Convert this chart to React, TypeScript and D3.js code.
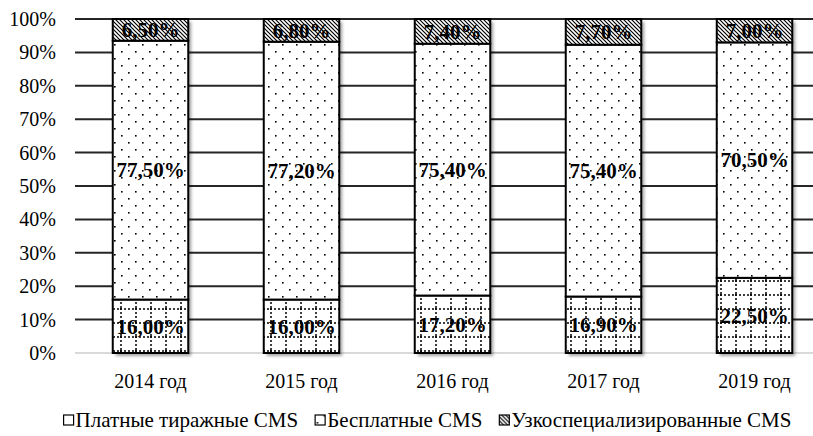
import React, { useEffect, useRef } from 'react'
import * as d3 from 'd3'

const years = ['2014 год', '2015 год', '2016 год', '2017 год', '2019 год']
const paid = [16.0, 16.0, 17.2, 16.9, 22.5]
const free = [77.5, 77.2, 75.4, 75.4, 70.5]
const niche = [6.5, 6.8, 7.4, 7.7, 7.0]
const seriesNames = ['Платные тиражные CMS', 'Бесплатные CMS', 'Узкоспециализированные CMS']
const yTicks = [0, 10, 20, 30, 40, 50, 60, 70, 80, 90, 100]

const W = 813
const H = 436
const FONT = '"Liberation Serif", "Times New Roman", serif'

const fmt = (v: number) => v.toFixed(2).replace('.', ',') + '%'

export default function App() {
  const svgRef = useRef<SVGSVGElement>(null)

  useEffect(() => {
    const svg = d3.select(svgRef.current)
    svg.selectAll('*').remove()

    const x = d3.scaleBand().domain(years).range([75, 830]).paddingInner(0.5).paddingOuter(0.25)
    const y = d3.scaleLinear().domain([0, 100]).range([353, 19])

    const defs = svg.append('defs')

    // bottom: dotted grid
    const pGrid = defs.append('pattern').attr('id', 'pGrid').attr('patternUnits', 'userSpaceOnUse')
      .attr('width', 15).attr('height', 14)
    pGrid.append('rect').attr('width', 15).attr('height', 14).attr('fill', '#fff')
    pGrid.append('line').attr('x1', 1).attr('x2', 1).attr('y1', 0).attr('y2', 14)
      .attr('stroke', '#000').attr('stroke-width', 1.5).attr('stroke-dasharray', '2,2')
    pGrid.append('line').attr('x1', 0).attr('x2', 15).attr('y1', 1).attr('y2', 1)
      .attr('stroke', '#000').attr('stroke-width', 1.5).attr('stroke-dasharray', '2,2')

    // middle: staggered dots
    const pDots = defs.append('pattern').attr('id', 'pDots').attr('patternUnits', 'userSpaceOnUse')
      .attr('width', 14).attr('height', 14)
    pDots.append('rect').attr('width', 14).attr('height', 14).attr('fill', '#fff')
    pDots.append('rect').attr('x', 2).attr('y', 2).attr('width', 1.6).attr('height', 1.6).attr('fill', '#000')
    pDots.append('rect').attr('x', 9).attr('y', 9).attr('width', 1.6).attr('height', 1.6).attr('fill', '#000')

    // top: diagonal hatch
    const pHatch = defs.append('pattern').attr('id', 'pHatch').attr('patternUnits', 'userSpaceOnUse')
      .attr('width', 4).attr('height', 4)
    pHatch.append('rect').attr('width', 4).attr('height', 4).attr('fill', '#fff')
    pHatch.append('path').attr('d', 'M-1,-1 L5,5 M-1,3 L1,5 M3,-1 L5,1')
      .attr('stroke', '#000').attr('stroke-width', 1.2)

    const shadow = defs.append('filter').attr('id', 'shadow').attr('x', '-10%').attr('y', '-10%')
      .attr('width', '130%').attr('height', '130%')
    shadow.append('feDropShadow').attr('dx', 3).attr('dy', 3).attr('stdDeviation', 1.8)
      .attr('flood-color', '#000').attr('flood-opacity', 0.35)

    const fills = ['url(#pGrid)', 'url(#pDots)', 'url(#pHatch)']
    const legendFills = ['#fff', 'url(#pDots)', 'url(#pHatch)']

    // gridlines
    svg.append('g').selectAll('line').data(yTicks).join('line')
      .attr('x1', 75).attr('x2', W)
      .attr('y1', d => y(d)).attr('y2', d => y(d))
      .attr('stroke', d => (d === 0 ? '#d9d9d9' : '#262626'))
      .attr('stroke-width', 2)

    // y labels
    svg.append('g').selectAll('text').data(yTicks).join('text')
      .attr('x', 56).attr('y', d => y(d)).attr('dy', '0.35em')
      .attr('text-anchor', 'end').attr('font-family', FONT).attr('font-size', 20)
      .text(d => d + '%')

    const stackData = years.map((yr, i) => ({ yr, vals: [paid[i], free[i], niche[i]] }))

    const bars = svg.append('g')
    stackData.forEach(d => {
      const g = bars.append('g')
      const x0 = x(d.yr) as number
      const bw = x.bandwidth()
      let acc = 0
      const segs = d.vals.map((v, k) => {
        const s = { k, v, y0: acc, y1: acc + v }
        acc += v
        return s
      })
      g.append('rect').attr('x', x0).attr('y', y(acc)).attr('width', bw).attr('height', y(0) - y(acc))
        .attr('fill', '#fff').attr('filter', 'url(#shadow)')
      segs.forEach(s => {
        g.append('rect').attr('x', x0).attr('y', y(s.y1)).attr('width', bw)
          .attr('height', y(s.y0) - y(s.y1))
          .attr('fill', fills[s.k]).attr('stroke', '#000').attr('stroke-width', 2)
      })
      segs.forEach(s => {
        g.append('text').attr('x', x0 + bw / 2).attr('y', y((s.y0 + s.y1) / 2)).attr('dy', '0.35em')
          .attr('text-anchor', 'middle').attr('font-family', FONT).attr('font-size', 21)
          .attr('font-weight', 'bold').text(fmt(s.v))
      })
    })

    // x labels
    svg.append('g').selectAll('text').data(years).join('text')
      .attr('x', d => (x(d) as number) + x.bandwidth() / 2).attr('y', 388)
      .attr('text-anchor', 'middle').attr('font-family', FONT).attr('font-size', 20)
      .text(d => d)

    // legend, centred under the plot
    const leg = svg.append('g')
    let lx = 0
    seriesNames.forEach((name, k) => {
      leg.append('rect').attr('x', lx + 1).attr('y', 415).attr('width', 10).attr('height', 10)
        .attr('fill', legendFills[k]).attr('stroke', '#000').attr('stroke-width', 1.2)
      const t = leg.append('text').attr('x', lx + 13).attr('y', 427)
        .attr('font-family', FONT).attr('font-size', 21).text(name)
      const len = (t.node() as SVGTextElement).getComputedTextLength()
      lx += 13 + len + (k < seriesNames.length - 1 ? 16 : 0)
    })
    leg.attr('transform', `translate(${427 - lx / 2},0)`)
  }, [])

  return (
    <svg ref={svgRef} width={W} height={H}
      style={{ position: 'absolute', left: 0, top: 0, display: 'block', background: '#fff' }} />
  )
}
